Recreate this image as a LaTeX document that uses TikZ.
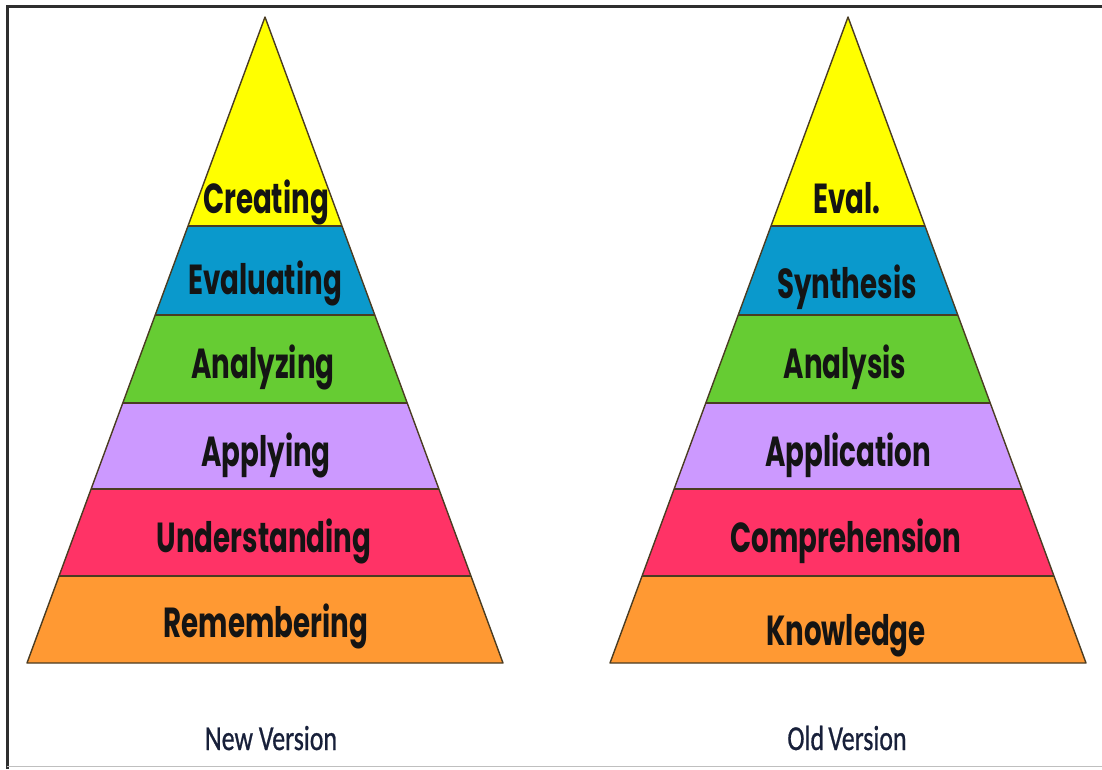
\documentclass[tikz,border=0pt]{standalone}
\usepackage{fontspec}
\setmainfont{Carlito}
\newfontfamily\geofont{Poppins}
\newfontfamily\captionfont{Carlito}[FakeBold=0.8]
\definecolor{tierYellow}{HTML}{FFFF00}
\definecolor{tierBlue}{HTML}{0A99CC}
\definecolor{tierGreen}{HTML}{66CC33}
\definecolor{tierLilac}{HTML}{CC99FF}
\definecolor{tierRose}{HTML}{FF3366}
\definecolor{tierOrange}{HTML}{FF9933}
\definecolor{edgeBrown}{HTML}{4A3C22}
\definecolor{labelInk}{HTML}{141414}
\definecolor{captionInk}{HTML}{18203A}
\definecolor{frameDark}{HTML}{2E2E2E}
\newcommand\squeezed[1]{\scalebox{0.66}[1]{#1}}
\newcommand\capsqueezed[1]{\scalebox{0.74}[1]{#1}}
% one pyramid: #1 = x of its axis; the sides slope 238 over a height of 646
\newcommand\drawpyramid[1]{%
  \foreach \ya/\yb/\col in {17/226/tierYellow,226/315/tierBlue,315/403/tierGreen,
                           403/489/tierLilac,489/576/tierRose,576/663/tierOrange}{%
    \fill[\col] ({#1-0.36842*(\ya-17)},\ya) -- ({#1+0.36842*(\ya-17)},\ya)
      -- ({#1+0.36842*(\yb-17)},\yb) -- ({#1-0.36842*(\yb-17)},\yb) -- cycle;
  }%
  \foreach \yb in {226,315,403,489,576}{%
    \draw[tier] ({#1-0.36842*(\yb-17)},\yb) -- ({#1+0.36842*(\yb-17)},\yb);
  }%
  \draw[tier] (#1,17) -- ({#1+238},663) -- ({#1-238},663) -- cycle;
}
\tikzset{
  tier/.style={draw=edgeBrown, line width=1.4pt, line join=round},
  lvl/.style={anchor=base, inner sep=0pt, text=labelInk,
    font=\geofont\bfseries\fontsize{42}{42}\selectfont},
  caption/.style={anchor=base, inner sep=0pt, text=captionInk,
    font=\captionfont\fontsize{35}{35}\selectfont},
}
\begin{document}
\begin{tikzpicture}[x=1pt,y=-1pt]
  \useasboundingbox (0,0) rectangle (1102,769);
  \fill[white] (0,0) rectangle (1102,769);

  % frame
  \draw[frameDark, line width=3pt] (7,769) -- (7,6) -- (1102,6);
  \draw[black!25, line width=1.5pt] (7,766.5) -- (1102,766.5);

  \drawpyramid{265}
  \drawpyramid{848}

  % revised taxonomy
  \node[lvl] (creating)      at (266,213) {\squeezed{Creating}};
  \node[lvl] (evaluating)    at (265,294) {\squeezed{Evaluating}};
  \node[lvl] (analyzing)     at (263,378) {\squeezed{Analyzing}};
  \node[lvl] (applying)      at (266,466) {\squeezed{Applying}};
  \node[lvl] (understanding) at (264,552) {\squeezed{Understanding}};
  \node[lvl] (remembering)   at (266,637) {\squeezed{Remembering}};

  % original taxonomy
  \node[lvl] (eval)          at (847,213) {\squeezed{Eval.}};
  \node[lvl] (synthesis)     at (847,298) {\squeezed{Synthesis}};
  \node[lvl] (analysis)      at (845,378) {\squeezed{Analysis}};
  \node[lvl] (application)   at (848,466) {\squeezed{Application}};
  \node[lvl] (comprehension) at (846,552) {\squeezed{Comprehension}};
  \node[lvl] (knowledge)     at (846,645) {\squeezed{Knowledge}};

  % captions
  \node[caption] (newver) at (271,750) {\capsqueezed{New Version}};
  \node[caption] (oldver) at (847,750) {\capsqueezed{Old\,Version}};
\end{tikzpicture}
\end{document}
